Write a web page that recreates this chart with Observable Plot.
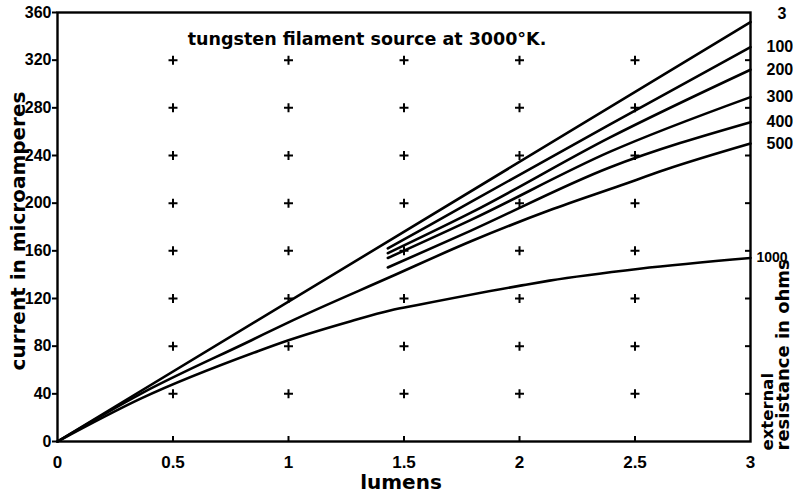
<!DOCTYPE html>
<html><head><meta charset="utf-8">
<script src="https://cdn.jsdelivr.net/npm/d3@7"></script>
<script src="https://cdn.jsdelivr.net/npm/@observablehq/plot@0.6"></script>
<style>body{margin:0;background:#fff} svg{overflow:visible}</style>
</head><body><div id="chart"></div>
<script>
const title = "tungsten filament source at 3000°K.";
const xLabel = "lumens";
const yLabel = "current in microamperes";
const rightLabel1 = "external";
const rightLabel2 = "resistance in ohms";
const xTicks = [0, 0.5, 1, 1.5, 2, 2.5, 3];
const xTickLabels = ["0", "0.5", "1", "1.5", "2", "2.5", "3"];
const yTicks = [0, 40, 80, 120, 160, 200, 240, 280, 320, 360];
const crossX = [0.5, 1, 1.5, 2, 2.5];
const crossY = [40, 80, 120, 160, 200, 240, 280, 320];

// series: external resistance in ohms
const lumens3 = [0, 3];
const current3 = [0, 352];
const lumens100 = [1.43, 1.79, 2.39, 3];
const current100 = [162, 201, 266, 331];
const lumens200 = [1.43, 1.79, 2.39, 3];
const current200 = [158, 192, 255, 312];
const lumens300 = [1.43, 1.79, 2.39, 3];
const current300 = [154, 186, 243, 289];
const lumens400 = [1.43, 1.79, 2.39, 3];
const current400 = [146, 177, 230, 268];
const lumens500 = [0, 0.36, 0.84, 1.0, 1.44, 1.79, 2.13, 2.44, 2.63, 3];
const current500 = [0, 40, 85, 100, 138, 168, 194, 215, 228, 250];
const lumens1000 = [0, 0.36, 0.87, 1.0, 1.27, 1.44, 1.57, 2.01, 2.13, 2.52, 3];
const current1000 = [0, 36, 76, 85, 101, 110, 115, 131, 135, 145, 154];

const series = [
  ["3", lumens3, current3],
  ["100", lumens100, current100],
  ["200", lumens200, current200],
  ["300", lumens300, current300],
  ["400", lumens400, current400],
  ["500", lumens500, current500],
  ["1000", lumens1000, current1000]
];
const rows = series.flatMap(([r, xs, ys]) => xs.map((x, i) => ({r, x, y: ys[i]})));
const ends = series.map(([r, xs, ys]) => ({r, x: xs[xs.length - 1], y: ys[ys.length - 1]}));
const crosses = crossX.flatMap(x => crossY.map(y => ({x, y})));

const font = "DejaVu Sans";
const narrow = "Liberation Sans Narrow, Liberation Sans, sans-serif";
const chart = Plot.plot({
  width: 793, height: 496,
  marginLeft: 57, marginRight: 43, marginTop: 12, marginBottom: 55,
  style: {fontFamily: font, fontWeight: "bold", background: "#fff", color: "#000"},
  x: {domain: [0, 3]},
  y: {domain: [0, 360]},
  marks: [
    Plot.frame({stroke: "#000", strokeWidth: 2.4}),
    Plot.axisY({ticks: yTicks, tickSize: 5, tickPadding: 1, fontSize: 16, fontFamily: narrow, fontWeight: "bold", label: null, strokeWidth: 2}),
    Plot.axisY({anchor: "right", ticks: yTicks.slice(1, -1), tickSize: 6, dx: -6, tickFormat: () => "", label: null, strokeWidth: 2}),
    Plot.axisX({ticks: xTicks.slice(1, -1), tickSize: 5, dy: -5, tickFormat: () => "", label: null, strokeWidth: 2}),
    Plot.axisX({ticks: xTicks, tickSize: 0, tickPadding: 14, tickFormat: d => xTickLabels[xTicks.indexOf(d)], fontSize: 17, fontFamily: narrow, fontWeight: "bold", label: null}),
    Plot.dot(crosses, {x: "x", y: "y", symbol: "plus", r: 3, stroke: "#000", strokeWidth: 2}),
    Plot.line(rows, {x: "x", y: "y", z: "r", curve: "monotone-x", stroke: "#000", strokeWidth: 2.6}),
    Plot.text(ends.filter(d => d.r === "3"), {x: "x", y: "y", text: "r", dx: 27, dy: -8, textAnchor: "start", fontSize: 16, fontFamily: narrow, fontWeight: "bold"}),
    Plot.text(ends.filter(d => d.r !== "3" && d.r !== "1000"), {x: "x", y: "y", text: "r", dx: 16, textAnchor: "start", fontSize: 16, fontFamily: narrow, fontWeight: "bold"}),
    Plot.text(ends.filter(d => d.r === "1000"), {x: "x", y: "y", text: "r", dx: 6, textAnchor: "start", fontSize: 14, fontFamily: narrow, fontWeight: "bold"}),
    Plot.text([title], {frameAnchor: "top", lineAnchor: "middle", textAnchor: "middle", dx: -37, dy: 27, fontSize: 17.5, fontWeight: "bold"}),
    Plot.text([xLabel], {frameAnchor: "bottom", lineAnchor: "middle", textAnchor: "middle", dx: -3, dy: 41, fontSize: 20, fontWeight: "bold"}),
    Plot.text([yLabel], {frameAnchor: "left", lineAnchor: "middle", textAnchor: "middle", dx: -39, dy: 4, rotate: -90, fontSize: 20, fontWeight: "bold"}),
    Plot.text([rightLabel1], {frameAnchor: "bottom-right", lineAnchor: "middle", textAnchor: "start", dx: 17, dy: 9, rotate: -90, fontSize: 16.5, fontWeight: "bold"}),
    Plot.text([rightLabel2], {frameAnchor: "bottom-right", lineAnchor: "middle", textAnchor: "start", dx: 33, dy: 9, rotate: -90, fontSize: 18, fontWeight: "bold"})
  ]
});
document.getElementById("chart").append(chart);
</script>
</body></html>
